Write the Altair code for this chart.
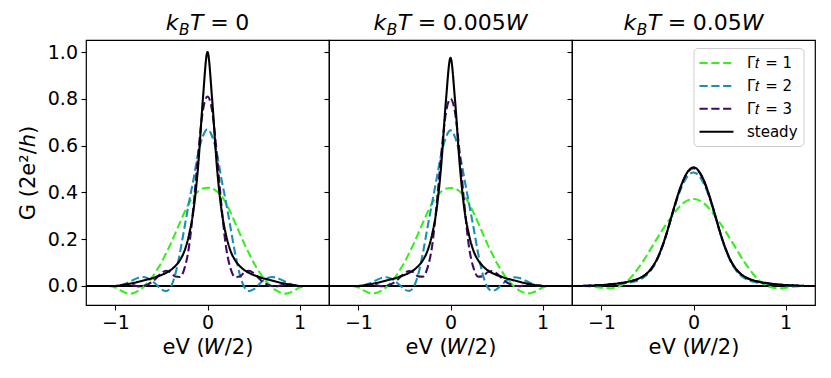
import altair as alt
import pandas as pd

# ---- data ----
x_values = [-1.2, -1.15, -1.1, -1.05, -1.0, -0.95, -0.9, -0.85, -0.8, -0.75, -0.7, -0.65, -0.6,
            -0.55, -0.5, -0.45, -0.4, -0.35, -0.3, -0.25, -0.2, -0.15, -0.1, -0.05, 0.0,
            0.05, 0.1, 0.15, 0.2, 0.25, 0.3, 0.35, 0.4, 0.45, 0.5, 0.55, 0.6, 0.65, 0.7,
            0.75, 0.8, 0.85, 0.9, 0.95, 1.0, 1.05, 1.1, 1.15, 1.2]

series_names = ["Γ𝑡 = 1", "Γ𝑡 = 2", "Γ𝑡 = 3", "steady"]
series_colors = ["#36f01e", "#1b8fb3", "#3b0e63", "#000000"]

panel_titles = ["0", "0.005", "0.05"]

# panel 1: kBT = 0
p1_g1 = [0.0, 0.0, 0.0, -0.001, -0.007, -0.018, -0.028, -0.033, -0.03, -0.02, -0.006, 0.014, 0.038, 0.068, 0.1, 0.14, 0.18, 0.225, 0.27, 0.315, 0.355, 0.385, 0.405, 0.417,
         0.42,
         0.417, 0.405, 0.385, 0.355, 0.315, 0.27, 0.225, 0.18, 0.14, 0.1, 0.068, 0.038, 0.014, -0.006, -0.02, -0.03, -0.033, -0.028, -0.018, -0.007, -0.001, 0.0, 0.0, 0.0]
p1_g2 = [0.0, 0.0, 0.0, 0.0, -0.001, 0.002, 0.008, 0.017, 0.027, 0.035, 0.038, 0.033, 0.021, 0.003, -0.015, -0.022, -0.005, 0.05, 0.14, 0.25, 0.36, 0.46, 0.57, 0.64,
         0.67,
         0.64, 0.57, 0.46, 0.36, 0.25, 0.14, 0.05, -0.005, -0.022, -0.015, 0.003, 0.021, 0.033, 0.038, 0.035, 0.027, 0.017, 0.008, 0.002, -0.001, 0.0, 0.0, 0.0, 0.0]
p1_g3 = [0.0, 0.0, 0.0, 0.0, 0.0, 0.003, 0.006, 0.007, 0.003, -0.002, 0.0, 0.006, 0.018, 0.036, 0.055, 0.065, 0.058, 0.04, 0.038, 0.075, 0.17, 0.35, 0.57, 0.75,
         0.81,
         0.75, 0.57, 0.35, 0.17, 0.075, 0.038, 0.04, 0.058, 0.065, 0.055, 0.036, 0.018, 0.006, 0.0, -0.002, 0.003, 0.007, 0.006, 0.003, 0.0, 0.0, 0.0, 0.0, 0.0]
p1_st = [0.0, 0.0, 0.0, 0.0, 0.0, 0.002, 0.005, 0.009, 0.013, 0.018, 0.023, 0.028, 0.033, 0.04, 0.047, 0.056, 0.068, 0.085, 0.11, 0.15, 0.22, 0.33, 0.52, 0.8,
         1.0,
         0.8, 0.52, 0.33, 0.22, 0.15, 0.11, 0.085, 0.068, 0.056, 0.047, 0.04, 0.033, 0.028, 0.023, 0.018, 0.013, 0.009, 0.005, 0.002, 0.0, 0.0, 0.0, 0.0, 0.0]

# panel 2: kBT = 0.005W
p2_g1 = [0.0, 0.0, 0.0, -0.001, -0.007, -0.018, -0.027, -0.032, -0.029, -0.02, -0.006, 0.014, 0.038, 0.068, 0.1, 0.14, 0.18, 0.225, 0.27, 0.314, 0.354, 0.384, 0.404, 0.416,
         0.419,
         0.416, 0.404, 0.384, 0.354, 0.314, 0.27, 0.225, 0.18, 0.14, 0.1, 0.068, 0.038, 0.014, -0.006, -0.02, -0.029, -0.032, -0.027, -0.018, -0.007, -0.001, 0.0, 0.0, 0.0]
p2_g2 = [0.0, 0.0, 0.0, 0.0, -0.001, 0.002, 0.008, 0.016, 0.026, 0.034, 0.037, 0.032, 0.02, 0.003, -0.015, -0.021, -0.004, 0.05, 0.14, 0.25, 0.355, 0.46, 0.565, 0.635,
         0.665,
         0.635, 0.565, 0.46, 0.355, 0.25, 0.14, 0.05, -0.004, -0.021, -0.015, 0.003, 0.02, 0.032, 0.037, 0.034, 0.026, 0.016, 0.008, 0.002, -0.001, 0.0, 0.0, 0.0, 0.0]
p2_g3 = [0.0, 0.0, 0.0, 0.0, 0.0, 0.003, 0.005, 0.006, 0.003, -0.001, 0.001, 0.007, 0.018, 0.036, 0.054, 0.064, 0.058, 0.041, 0.04, 0.077, 0.17, 0.35, 0.565, 0.74,
         0.8,
         0.74, 0.565, 0.35, 0.17, 0.077, 0.04, 0.041, 0.058, 0.064, 0.054, 0.036, 0.018, 0.007, 0.001, -0.001, 0.003, 0.006, 0.005, 0.003, 0.0, 0.0, 0.0, 0.0, 0.0]
p2_st = [0.0, 0.0, 0.0, 0.0, 0.0, 0.002, 0.005, 0.009, 0.013, 0.018, 0.023, 0.028, 0.033, 0.04, 0.047, 0.056, 0.068, 0.085, 0.11, 0.15, 0.22, 0.33, 0.52, 0.79,
         0.975,
         0.79, 0.52, 0.33, 0.22, 0.15, 0.11, 0.085, 0.068, 0.056, 0.047, 0.04, 0.033, 0.028, 0.023, 0.018, 0.013, 0.009, 0.005, 0.002, 0.0, 0.0, 0.0, 0.0, 0.0]

# panel 3: kBT = 0.05W
p3_g1 = [0.0, -0.001, -0.003, -0.005, -0.008, -0.01, -0.01, -0.007, 0.0, 0.012, 0.028, 0.05, 0.076, 0.104, 0.135, 0.168, 0.2, 0.232, 0.262, 0.29, 0.316, 0.34, 0.357, 0.368,
         0.372,
         0.368, 0.357, 0.34, 0.316, 0.29, 0.262, 0.232, 0.2, 0.168, 0.135, 0.104, 0.076, 0.05, 0.028, 0.012, 0.0, -0.007, -0.01, -0.01, -0.008, -0.005, -0.003, -0.001, 0.0]
p3_g2 = [0.0, 0.0, 0.001, 0.002, 0.003, 0.005, 0.007, 0.009, 0.01, 0.012, 0.014, 0.018, 0.024, 0.034, 0.05, 0.074, 0.108, 0.155, 0.213, 0.279, 0.344, 0.402, 0.447, 0.475,
         0.485,
         0.475, 0.447, 0.402, 0.344, 0.279, 0.213, 0.155, 0.108, 0.074, 0.05, 0.034, 0.024, 0.018, 0.014, 0.012, 0.01, 0.009, 0.007, 0.005, 0.003, 0.002, 0.001, 0.0, 0.0]
p3_g3 = [0.001, 0.001, 0.002, 0.003, 0.004, 0.005, 0.007, 0.009, 0.011, 0.014, 0.018, 0.023, 0.03, 0.04, 0.055, 0.078, 0.111, 0.157, 0.214, 0.281, 0.349, 0.41, 0.46, 0.492,
         0.503,
         0.492, 0.46, 0.41, 0.349, 0.281, 0.214, 0.157, 0.111, 0.078, 0.055, 0.04, 0.03, 0.023, 0.018, 0.014, 0.011, 0.009, 0.007, 0.005, 0.004, 0.003, 0.002, 0.001, 0.001]
p3_st = [0.001, 0.001, 0.002, 0.003, 0.004, 0.005, 0.007, 0.009, 0.012, 0.015, 0.019, 0.024, 0.031, 0.041, 0.056, 0.079, 0.112, 0.158, 0.215, 0.282, 0.35, 0.412, 0.462, 0.495,
         0.507,
         0.495, 0.462, 0.412, 0.35, 0.282, 0.215, 0.158, 0.112, 0.079, 0.056, 0.041, 0.031, 0.024, 0.019, 0.015, 0.012, 0.009, 0.007, 0.005, 0.004, 0.003, 0.002, 0.001, 0.001]

x_ticks = [-1, 0, 1]
y_ticks = [0.0, 0.2, 0.4, 0.6, 0.8, 1.0]

# ---- layout / style ----
PW, PH = 243, 265
FONT = "DejaVu Sans"
TITLE_SIZE = 22
TICK_SIZE = 19
AXTITLE_SIZE = 21

xscale = alt.Scale(domain=[-1.32, 1.32], nice=False, zero=False)
yscale = alt.Scale(domain=[-0.0815, 1.0515], nice=False, zero=False)
cscale = alt.Scale(domain=series_names, range=series_colors)
dscale = alt.Scale(domain=series_names, range=[[8.2, 3.6], [8.2, 3.6], [8.2, 3.6], [1, 0]])

# DejaVu Sans advance widths (em)
ADV = {"k": 0.579, "B": 0.686, "T": 0.611, "=": 0.838, "0": 0.636, ".": 0.318,
       "5": 0.636, "W": 0.989}


def title_layers(value):
    s = TITLE_SIZE
    segs = [("k", s, "italic", 0, 0), ("B", s * 0.7, "italic", 5, 0.5),
            ("T", s, "italic", 0, 0.5), ("=", s, "normal", 0, s * 0.3),
            (value, s, "normal", 0, s * 0.3)]
    if value != "0":
        segs.append(("W", s, "italic", 0, 0))
    widths = []
    for t, size, st, dy, pad in segs:
        widths.append(pad + sum(ADV[c] for c in t) * size)
    total = sum(widths)
    x0 = PW / 2 - total / 2
    layers = []
    one = pd.DataFrame({"a": [0]})
    for (t, size, st, dy, pad), w in zip(segs, widths):
        layers.append(
            alt.Chart(one).mark_text(text=t, font=FONT, fontSize=size, fontStyle=st,
                                     align="left", baseline="alphabetic", color="black")
            .encode(x=alt.value(x0 + pad), y=alt.value(-10 + dy))
        )
        x0 += w
    return layers


def panel(curves, value, first, legend):
    rows = []
    for name, vals in zip(series_names, curves):
        for xv, yv in zip(x_values, vals):
            rows.append({"x": xv, "G": yv, "series": name})
    df = pd.DataFrame(rows)

    xaxis = alt.Axis(values=x_ticks, format="d", title="eV (𝑊/2)", labelFontSize=TICK_SIZE,
                     titleFontSize=AXTITLE_SIZE, titleFontWeight="normal", tickSize=5,
                     tickWidth=1.1, labelPadding=3, titlePadding=4, domain=False, grid=False,
                     tickColor="black", labelColor="black", titleColor="black", labelFlush=False)
    if first:
        yaxis = alt.Axis(values=y_ticks, format=".1f", title="G (2e²/ℎ)", labelFontSize=TICK_SIZE,
                         titleFontSize=AXTITLE_SIZE, titleFontWeight="normal", tickSize=5,
                         tickWidth=1.1, labelPadding=3.5, titlePadding=9, domain=False, grid=False,
                         tickColor="black", labelColor="black", titleColor="black", labelFlush=False)
    else:
        yaxis = alt.Axis(values=y_ticks, labels=False, title=None, tickSize=5, tickWidth=1.1,
                         domain=False, grid=False, tickColor="black")

    if legend:
        leg = alt.Legend(title=None, orient="none", legendX=121.5, legendY=8,
                         symbolType="M-2,0H2", symbolSize=289, symbolStrokeWidth=2,
                         symbolOffset=8, labelOffset=21, labelFontSize=15, labelFont=FONT,
                         labelColor="black", fillColor="white", strokeColor="#cccccc",
                         cornerRadius=4, padding=5.5, rowPadding=4.9)
    else:
        leg = None

    zero = alt.Chart(pd.DataFrame({"z": [0.0]})).mark_rule(color="black", strokeWidth=2).encode(
        y=alt.Y("z:Q", scale=yscale, axis=yaxis))
    lines = alt.Chart(df).mark_line(strokeWidth=2.1, interpolate="monotone").encode(
        x=alt.X("x:Q", scale=xscale, axis=xaxis),
        y=alt.Y("G:Q", scale=yscale, axis=yaxis),
        color=alt.Color("series:N", scale=cscale, legend=leg),
        strokeDash=alt.StrokeDash("series:N", scale=dscale, legend=leg),
    )
    return alt.layer(zero, lines, *title_layers(value)).properties(width=PW, height=PH)


c1 = panel([p1_g1, p1_g2, p1_g3, p1_st], panel_titles[0], True, False)
c2 = panel([p2_g1, p2_g2, p2_g3, p2_st], panel_titles[1], False, False)
c3 = panel([p3_g1, p3_g2, p3_g3, p3_st], panel_titles[2], False, True)

chart = (
    alt.hconcat(c1, c2, c3, spacing=0, bounds="flush")
    .resolve_scale(color="independent", strokeDash="independent")
    .resolve_legend(color="independent", strokeDash="independent")
    .properties(padding={"left": 8, "top": 3, "right": 5, "bottom": 5})
    .configure(font=FONT)
    .configure_view(stroke="black", strokeWidth=1.2)
)

chart.save("out.html", embed_options={"renderer": "svg", "actions": False})
